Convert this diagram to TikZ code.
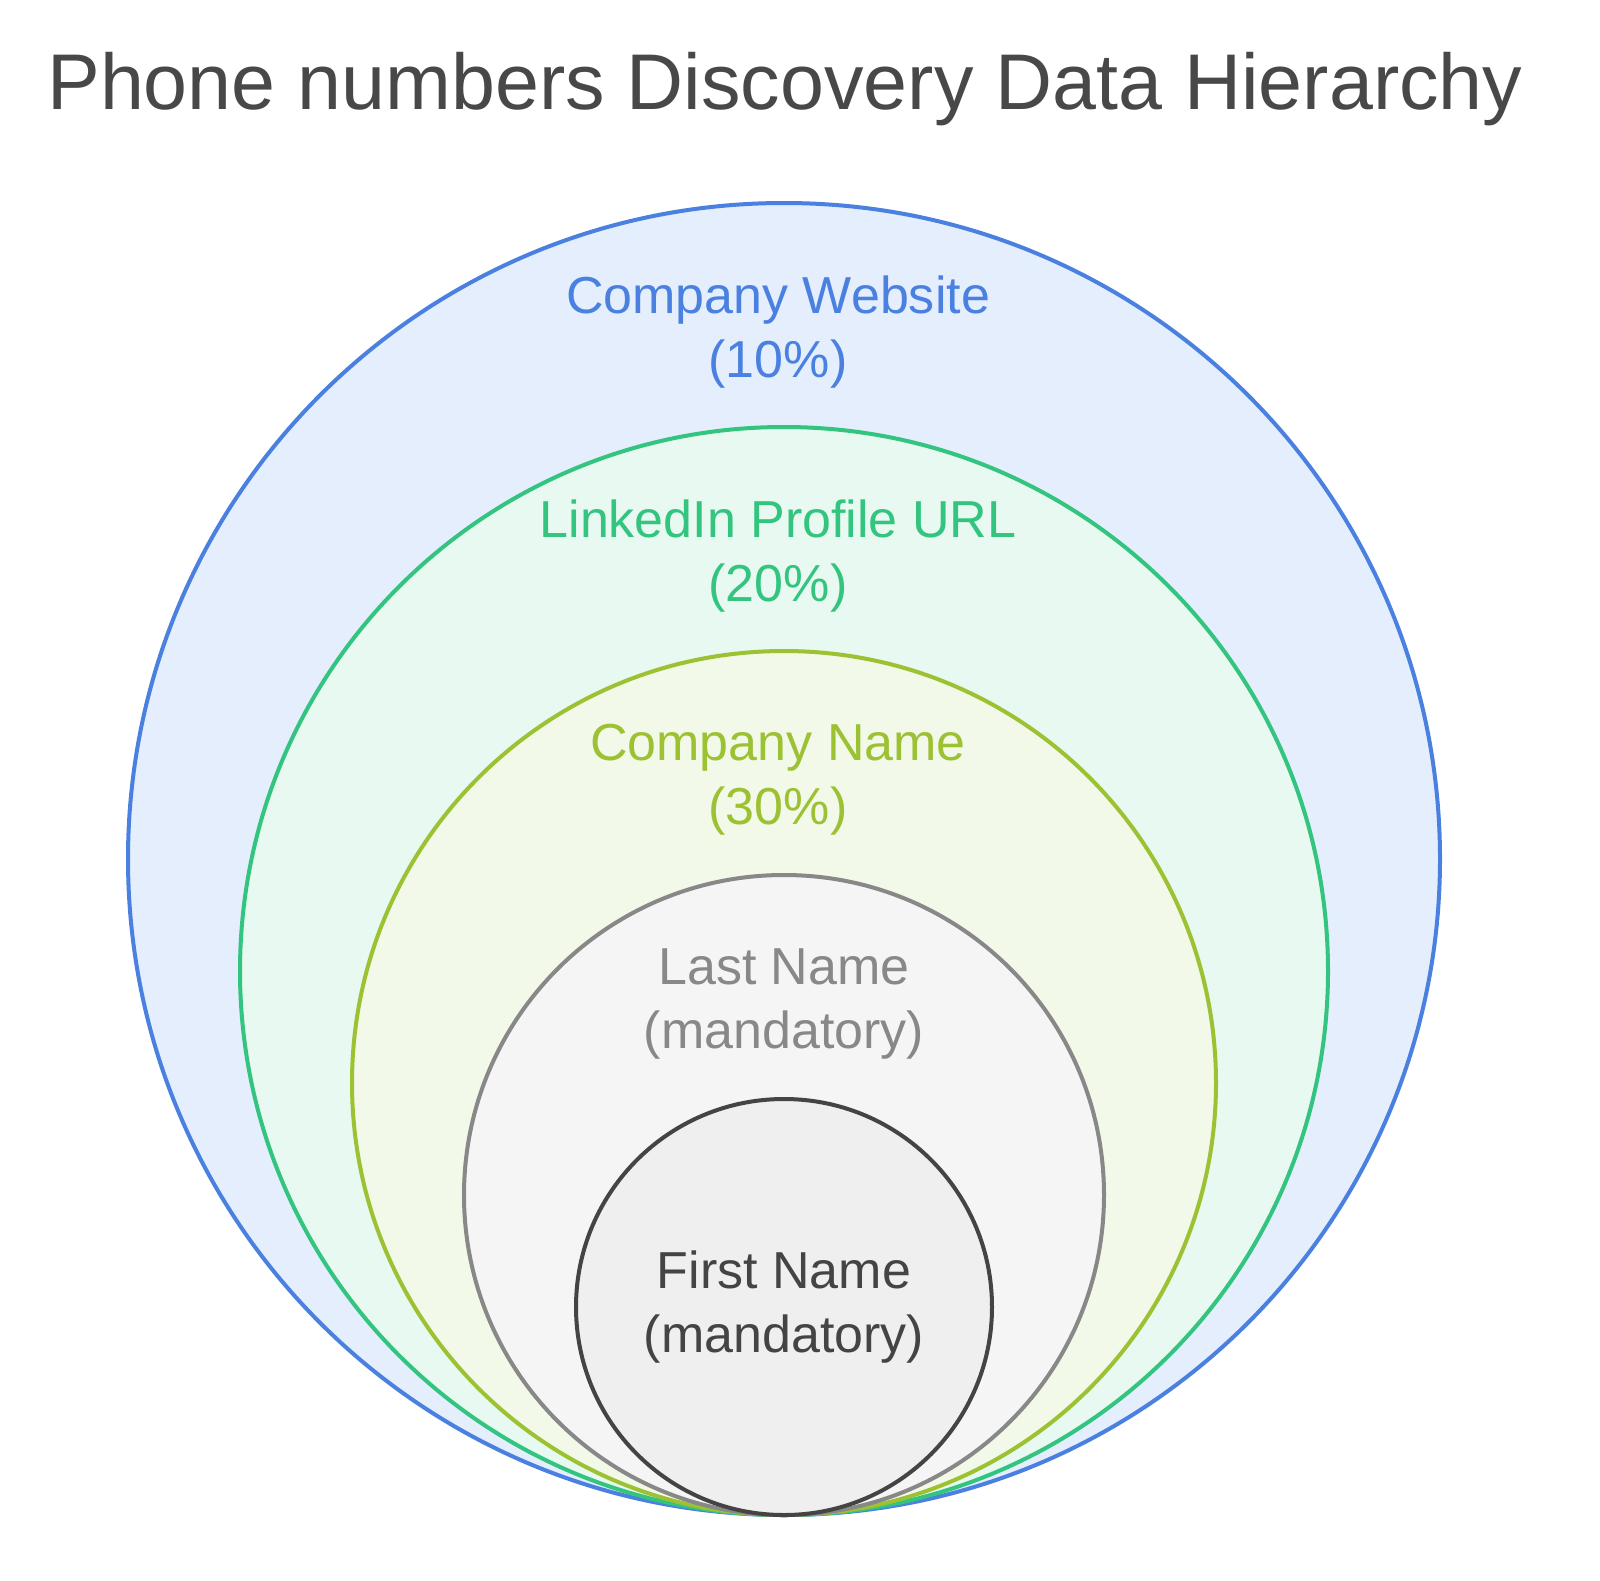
\documentclass[tikz,border=0pt]{standalone}
\usepackage{fontspec}
\setmainfont{Liberation Sans}
\definecolor{cblue}{HTML}{4A80E0}
\definecolor{fblue}{HTML}{E4EEFD}
\definecolor{cgreen}{HTML}{33C47F}
\definecolor{fgreen}{HTML}{E7F9F1}
\definecolor{cyg}{HTML}{9CC133}
\definecolor{fyg}{HTML}{F2F9E8}
\definecolor{cgray}{HTML}{888888}
\definecolor{fgray}{HTML}{F5F5F5}
\definecolor{cdark}{HTML}{444444}
\definecolor{fdark}{HTML}{EFEFEF}
\definecolor{ctitle}{HTML}{484848}
\begin{document}
\begin{tikzpicture}[x=1pt,y=-1pt,
  ring/.style={line width=4pt},
  lbl/.style={align=center,inner sep=0pt,font=\fontsize{52}{64}\selectfont}]
\useasboundingbox (0,0) rectangle (1600,1581);
\fill[white] (0,0) rectangle (1600,1581);
\node[font=\fontsize{79}{85}\selectfont,text=ctitle,inner sep=0pt] (title) at (785,89) {Phone numbers Discovery Data Hierarchy};
\filldraw[ring,draw=cblue,fill=fblue] (784,859) circle (656);
\filldraw[ring,draw=cgreen,fill=fgreen] (784,971) circle (544);
\filldraw[ring,draw=cyg,fill=fyg] (784,1083) circle (432);
\filldraw[ring,draw=cgray,fill=fgray] (784,1195) circle (320);
\filldraw[ring,draw=cdark,fill=fdark] (784,1307) circle (208);
\node[lbl,text=cblue] (web) at (778,332) {Company Website\\(10\%)};
\node[lbl,text=cgreen] (li) at (778,556) {LinkedIn Profile URL\\(20\%)};
\node[lbl,text=cyg] (cn) at (778,780) {Company Name\\(30\%)};
\node[lbl,text=cgray] (ln) at (784,1004) {Last Name\\(mandatory)};
\node[lbl,text=cdark] (fn) at (784,1307) {First Name\\(mandatory)};
\end{tikzpicture}
\end{document}
